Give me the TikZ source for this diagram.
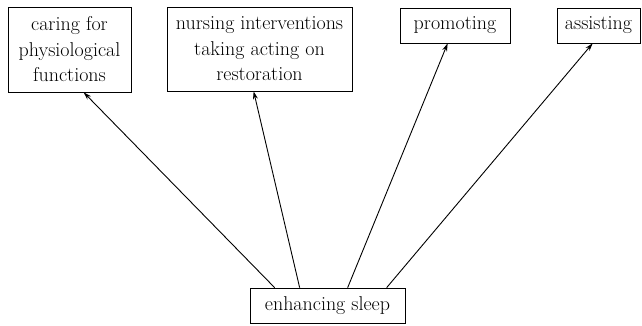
\documentclass[tikz,border=0pt]{standalone}
\usetikzlibrary{arrows.meta}
\begin{document}
\begin{tikzpicture}[x=1pt,y=1pt,
  box/.style={draw, line width=0.7pt, inner sep=0pt, align=center,
    font=\fontsize{20}{25.5}\selectfont},
  arr/.style={-{Stealth[length=8pt,width=5pt]}, line width=0.9pt}]
\useasboundingbox (0,0) rectangle (642,326);
\node[box, minimum width=123pt, minimum height=85pt] (b1) at (69.5,276.5) {caring for\\physiological\\functions};
\node[box, minimum width=185pt, minimum height=84pt] (b2) at (259.5,277) {nursing interventions\\taking acting on\\restoration};
\node[box, minimum width=110pt, minimum height=35pt] (b3) at (455,300.5) {promoting};
\node[box, minimum width=83pt, minimum height=35pt] (b4) at (598.5,300.5) {assisting};
\node[box, minimum width=155pt, minimum height=35pt] (bot) at (327.5,20.5) {enhancing sleep};
\draw[arr] ([xshift=25pt]bot.north west) -- ([xshift=76pt]b1.south west);
\draw[arr] ([xshift=50pt]bot.north west) -- ([xshift=87pt]b2.south west);
\draw[arr] ([xshift=98pt]bot.north west) -- ([xshift=48pt]b3.south west);
\draw[arr] ([xshift=137pt]bot.north west) -- ([xshift=36pt]b4.south west);
\end{tikzpicture}
\end{document}
